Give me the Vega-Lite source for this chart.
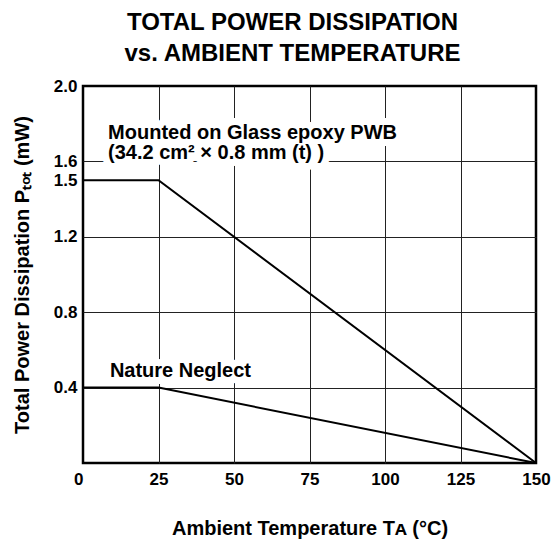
{
  "$schema": "https://vega.github.io/schema/vega-lite/v6.json",
  "autosize": {"type": "none"},
  "padding": {"left": 83, "top": 86, "right": 22, "bottom": 79},
  "width": 453,
  "height": 377,
  "background": "white",
  "title": {
    "text": ["TOTAL POWER DISSIPATION", "vs. AMBIENT TEMPERATURE"],
    "font": "Liberation Sans",
    "fontSize": 24,
    "fontWeight": "bold",
    "lineHeight": 31,
    "color": "black",
    "anchor": "middle",
    "dx": -17,
    "offset": 11
  },
  "config": {
    "view": {"stroke": "black", "strokeWidth": 2.5},
    "axis": {
      "labelFont": "Liberation Sans",
      "labelFontSize": 17,
      "labelFontWeight": "bold",
      "labelColor": "black",
      "titleFont": "Liberation Sans",
      "titleFontSize": 20,
      "titleFontWeight": "bold",
      "titleColor": "black",
      "domain": false,
      "ticks": false,
      "gridColor": "#222",
      "gridWidth": 1,
      "labelOverlap": false,
      "labelFlush": false
    }
  },
  "layer": [
    {
      "data": {"values": [
        {"label": "Mounted on Glass epoxy PWB", "x": 8.3, "y": 1.719},
        {"label": "(34.2 cm² × 0.8 mm (t) )", "x": 8.3, "y": 1.613},
        {"label": "Nature Neglect", "x": 8.9, "y": 0.456}
      ]},
      "mark": {"type": "text", "align": "left", "baseline": "alphabetic", "font": "Liberation Sans", "fontSize": 20, "fontWeight": "bold", "stroke": "white", "strokeWidth": 14, "fill": "white", "strokeJoin": "round"},
      "encoding": {
        "x": {"field": "x", "type": "quantitative"},
        "y": {"field": "y", "type": "quantitative"},
        "text": {"field": "label"}
      }
    },
    {
      "data": {"values": [
        {"label": "Mounted on Glass epoxy PWB", "x": 8.3, "y": 1.719},
        {"label": "(34.2 cm² × 0.8 mm (t) )", "x": 8.3, "y": 1.613},
        {"label": "Nature Neglect", "x": 8.9, "y": 0.456}
      ]},
      "mark": {"type": "text", "align": "left", "baseline": "alphabetic", "font": "Liberation Sans", "fontSize": 20, "fontWeight": "bold", "fill": "black"},
      "encoding": {
        "x": {"field": "x", "type": "quantitative"},
        "y": {"field": "y", "type": "quantitative"},
        "text": {"field": "label"}
      }
    },
    {
      "data": {"values": [
        {"series": "Glass epoxy PWB", "x": 0, "y": 1.5},
        {"series": "Glass epoxy PWB", "x": 25, "y": 1.5},
        {"series": "Glass epoxy PWB", "x": 150, "y": 0},
        {"series": "Nature Neglect", "x": 0, "y": 0.4},
        {"series": "Nature Neglect", "x": 25, "y": 0.4},
        {"series": "Nature Neglect", "x": 150, "y": 0}
      ]},
      "mark": {"type": "line", "color": "black", "strokeWidth": 2},
      "encoding": {
        "x": {
          "field": "x", "type": "quantitative",
          "scale": {"domain": [0, 150], "nice": false},
          "axis": {
            "values": [0, 25, 50, 75, 100, 125, 150],
            "format": "d",
            "labelPadding": 8,
            "labelAlign": {"condition": {"test": "datum.value === 0", "value": "right"}, "value": "center"},
            "gridOpacity": {"condition": {"test": "datum.value === 0 || datum.value === 150", "value": 0}, "value": 1},
            "title": "Ambient Temperature  Tᴀ (°C)",
            "titlePadding": 31
          }
        },
        "y": {
          "field": "y", "type": "quantitative",
          "scale": {"domain": [0, 2], "nice": false},
          "axis": {
            "values": [0.4, 0.8, 1.2, 1.5, 1.6, 2.0],
            "format": ".1f",
            "labelPadding": 6,
            "gridOpacity": {"condition": {"test": "datum.value === 1.5 || datum.value === 2", "value": 0}, "value": 1},
            "title": "Total Power Dissipation  Pₜₒₜ (mW)",
            "titlePadding": 21
          }
        },
        "detail": {"field": "series"}
      }
    }
  ]
}
